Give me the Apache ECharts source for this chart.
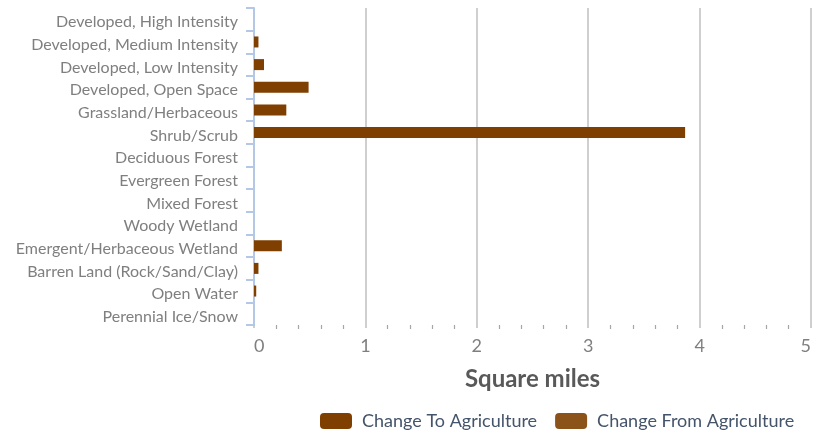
<!DOCTYPE html>
<html><head><meta charset="utf-8">
<script src="https://cdn.jsdelivr.net/npm/echarts@6/dist/echarts.min.js"></script>
<style>html,body{margin:0;padding:0;background:#fff}#c{width:819px;height:436px}</style>
</head><body><div id="c"></div>
<script>
const categories = ["Developed, High Intensity","Developed, Medium Intensity","Developed, Low Intensity","Developed, Open Space","Grassland/Herbaceous","Shrub/Scrub","Deciduous Forest","Evergreen Forest","Mixed Forest","Woody Wetland","Emergent/Herbaceous Wetland","Barren Land (Rock/Sand/Clay)","Open Water","Perennial Ice/Snow"];
const changeTo = [0, 0.04, 0.09, 0.49, 0.29, 3.87, 0, 0, 0, 0, 0.25, 0.04, 0.02, 0];
const changeFrom = [0, 0, 0, 0, 0, 0, 0, 0, 0, 0, 0, 0, 0, 0];
const xTicks = [0, 1, 2, 3, 4, 5];

const chart = echarts.init(document.getElementById('c'));
chart.setOption({
  animation: false,
  grid: {left: 254, right: 8, top: 8, bottom: 111, containLabel: false},
  legend: {
    top: 412, left: 320, padding: 0,
    itemWidth: 32, itemHeight: 16, itemGap: 18,
    icon: 'roundRect',
    textStyle: {color: '#44546a', fontSize: 18, fontFamily: 'Lato', padding: [0, 0, 0, 5]},
    data: ['Change To Agriculture', 'Change From Agriculture']
  },
  xAxis: {
    type: 'value', min: xTicks[0], max: xTicks[xTicks.length-1], interval: 1,
    name: 'Square miles', nameLocation: 'middle', nameGap: 42,
    nameTextStyle: {fontWeight: 'bold', fontSize: 24, color: '#595959', fontFamily: 'Lato'},
    axisLine: {show: false},
    axisTick: {show: true, length: 3, lineStyle: {color: '#bfbfbf', width: 1.5}},
    minorTick: {show: true, splitNumber: 5, length: 4, lineStyle: {color: '#a6a6a6', width: 1.2}},
    splitLine: {show: true, lineStyle: {color: '#bfbfbf', width: 1.5}},
    axisLabel: {color: '#7f7f7f', fontSize: 18, fontFamily: 'Lato', margin: 12,
      alignMinLabel: 'left', alignMaxLabel: 'right',
      formatter: v => xTicks.includes(v) ? String(v) : ''}
  },
  yAxis: {
    type: 'category', data: categories, inverse: true,
    axisLine: {show: true, lineStyle: {color: '#b4c7e7', width: 2}},
    axisTick: {show: true, length: 8, lineStyle: {color: '#b4c7e7', width: 2}},
    axisLabel: {margin: 16, formatter: v => '{a|' + v + '}',
      rich: {a: {color: '#7f7f7f', fontSize: 16, fontFamily: 'Lato', padding: [6, 0, 0, 0]}}}
  },
  series: [
    {name: 'Change To Agriculture', type: 'bar', data: changeTo, barWidth: 11, barGap: '-100%',
      itemStyle: {color: '#7f3f00'}},
    {name: 'Change From Agriculture', type: 'bar', data: changeFrom, barWidth: 11,
      itemStyle: {color: '#8b521a'}}
  ]
});
</script></body></html>
